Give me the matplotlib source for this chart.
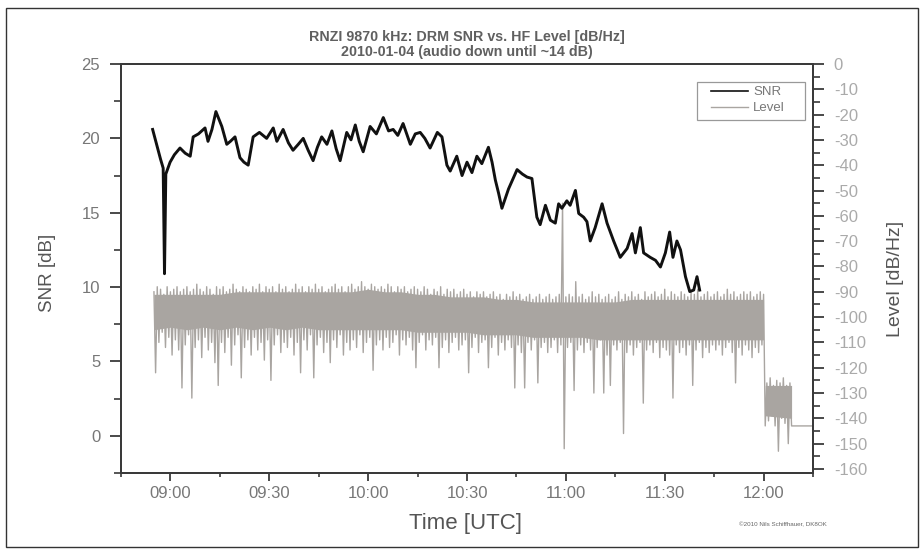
import matplotlib
matplotlib.use("Agg")
import matplotlib.pyplot as plt
import matplotlib.dates as mdates
from matplotlib.lines import Line2D
from matplotlib.patches import Rectangle
import pandas as pd

plt.rcParams['font.family'] = ['Liberation Sans', 'DejaVu Sans']
plt.rcParams['axes.unicode_minus'] = False

DAY = pd.Timestamp('2010-01-04')

# ---------------- data ----------------
# SNR: minutes after 08:00 and value [dB]
snr_min = [54.6, 55.8, 57.0, 57.8, 58.2, 58.6, 59.9, 61.2, 62.9, 64.5, 66.0, 66.9,
           68.5, 70.5, 71.4, 72.6, 73.8, 75.6, 77.1, 78.2, 79.6, 81.1, 82.3, 83.6,
           85.1, 87.0, 89.2, 91.2, 92.3, 94.2, 95.8, 97.2, 98.8, 100.3, 101.8, 103.3,
           104.6, 105.9, 107.5, 109.0, 110.3, 111.5, 113.5, 114.8, 116.1, 117.3, 118.5,
           120.6, 122.5, 124.6, 126.2, 127.6, 129.0, 130.6, 132.8, 134.3, 135.8, 137.2,
           138.8, 141.0, 142.4, 143.9, 144.9, 146.9, 148.5, 150.0, 151.5, 153.0, 154.5,
           156.5, 157.6, 158.6, 159.6, 160.6, 162.6, 164.0, 165.2, 166.8, 168.2, 169.7,
           171.2, 172.2, 173.8, 175.3, 176.8, 177.8, 178.8, 180.3, 181.3, 182.9, 183.9,
           185.4, 186.4, 187.4, 188.9, 191.0, 192.5, 194.5, 196.5, 198.6, 200.1, 201.1,
           202.6, 203.6, 205.6, 207.2, 208.7, 210.2, 211.5, 212.5, 213.7, 214.8, 216.3,
           217.6, 218.8, 219.8, 220.6]
snr_val = [20.6, 19.6, 18.6, 18.0, 10.9, 17.6, 18.4, 18.9, 19.35, 19.0, 18.8, 20.1,
           20.3, 20.7, 19.8, 20.6, 21.8, 20.8, 19.6, 19.8, 20.1, 18.7, 18.4, 18.2,
           20.1, 20.4, 20.0, 20.7, 19.8, 20.6, 19.7, 19.2, 19.6, 20.0, 19.2, 18.5,
           19.4, 20.1, 19.6, 20.5, 19.3, 18.5, 20.4, 19.9, 20.9, 19.8, 19.1,
           20.8, 20.3, 21.4, 20.5, 20.6, 20.2, 21.0, 19.6, 20.3, 20.4, 20.0,
           19.35, 20.4, 20.1, 18.2, 17.8, 18.8, 17.5, 18.4, 17.7, 18.8, 18.3,
           19.4, 18.4, 17.2, 16.3, 15.3, 16.6, 17.3, 17.9, 17.6, 17.4, 17.3,
           14.7, 14.2, 15.5, 14.5, 14.3, 15.6, 15.3, 15.8, 15.5, 16.5, 14.95,
           14.7, 14.4, 13.1, 14.0, 15.6, 14.3, 13.1, 12.0, 12.6, 13.6, 12.3,
           14.0, 12.3, 12.0, 11.8, 11.35, 12.3, 13.7, 12.0, 13.1, 12.5, 10.7,
           9.7, 9.8, 10.7, 9.8]

# Level: one maximum and one minimum per minute, starting at 08:55 [dB/Hz]
level_start = '08:55'
level_hi = [
    -90, -88, -89, -91, -88, -90, -89, -88, -90, -89,   # 08:55
    -88, -90, -89, -87, -89, -90, -88, -89, -91, -88,   # 09:05
    -89, -88, -90, -89, -87, -89, -90, -88, -89, -90,   # 09:15
    -88, -89, -87, -90, -88, -89, -88, -90, -87, -89,   # 09:25
    -88, -90, -89, -87, -89, -88, -90, -88, -89, -87,   # 09:35
    -89, -88, -90, -89, -88, -87, -89, -88, -90, -88,   # 09:45
    -87, -89, -88, -86, -88, -89, -87, -88, -89, -88,   # 09:55
    -89, -87, -88, -90, -88, -89, -88, -90, -89, -88,   # 10:05
    -89, -90, -88, -89, -91, -89, -90, -88, -91, -89,   # 10:15
    -90, -89, -91, -90, -89, -91, -90, -92, -90, -91,   # 10:25
    -90, -92, -91, -90, -92, -91, -93, -91, -92, -90,   # 10:35
    -92, -91, -93, -92, -91, -93, -92, -91, -93, -92,   # 10:45
    -91, -93, -92, -91, -55, -92, -91, -92, -86, -92,   # 10:55
    -91, -93, -92, -90, -92, -91, -93, -92, -91, -93,   # 11:05
    -92, -90, -93, -91, -92, -90, -92, -91, -93, -90,   # 11:15
    -92, -91, -90, -92, -91, -89, -92, -90, -91, -92,   # 11:25
    -90, -91, -92, -90, -91, -89, -92, -91, -90, -92,   # 11:35
    -91, -90, -92, -91, -89, -91, -90, -92, -91, -90,   # 11:45
    -91, -90, -92, -91, -90, -91,                       # 11:55
    -126, -124, -127, -125, -126, -124, -127, -126]     # 12:01
level_lo = [
    -122, -110, -106, -112, -108, -115, -109, -113, -128, -111,
    -107, -132, -112, -109, -116, -108, -113, -110, -118, -127,
    -110, -114, -108, -119, -111, -107, -124, -112, -109, -115,
    -108, -113, -110, -117, -109, -125, -111, -107, -114, -110,
    -112, -108, -115, -110, -122, -109, -113, -107, -124, -111,
    -108, -114, -110, -118, -109, -112, -107, -115, -110, -113,
    -109, -112, -107, -114, -110, -108, -121, -111, -109, -113,
    -108, -112, -110, -107, -115, -109, -111, -108, -113, -120,
    -110, -107, -113, -109, -111, -108, -120, -112, -109, -114,
    -110, -108, -113, -111, -109, -122, -112, -108, -114, -110,
    -109, -120, -112, -108, -115, -110, -113, -109, -112, -128,
    -111, -114, -128, -110, -113, -109, -126, -112, -110, -114,
    -112, -109, -114, -111, -152, -112, -110, -129, -113, -111,
    -114, -110, -113, -130, -112, -109, -130, -115, -127, -111,
    -113, -110, -146, -114, -111, -115, -112, -110, -134, -113,
    -111, -114, -110, -116, -112, -113, -115, -132, -111, -114,
    -112, -115, -111, -127, -113, -110, -116, -112, -114, -111,
    -113, -111, -115, -112, -110, -114, -126, -112, -115, -111,
    -113, -116, -112, -114, -111, -143,
    -141, -139, -143, -153, -140, -142, -150, -143]
level_tail_time = ['12:16:00']
level_tail_val = [-143]

# dense core of the Level band, every 5 minutes from 08:55 to 12:00
core_start, core_end = '08:55', '12:00'
core_top = [-91, -91, -91, -91, -91, -90, -90, -90, -90, -90, -90, -90, -90,
            -89, -90, -90, -91, -91, -92, -92, -92, -93, -93, -94, -94, -94,
            -94, -94, -94, -93, -93, -93, -93, -93, -93, -93, -93, -93]
core_bot = [-105, -104, -105, -104, -105, -104, -105, -104, -105, -104, -105,
            -105, -105, -105, -105, -105, -106, -106, -106, -106, -107, -107,
            -107, -108, -108, -108, -108, -109, -109, -109, -109, -109, -109,
            -109, -109, -109, -109, -109]
# dense core after the carrier drop
low_core_time = ['12:00:30', '12:08:30']
low_core_top = [-127, -127]
low_core_bot = [-139, -140]

title_lines = ['RNZI 9870 kHz: DRM SNR vs. HF Level [dB/Hz]',
               '2010-01-04 (audio down until ~14 dB)']
x_label = 'Time [UTC]'
y_label = 'SNR [dB]'
y2_label = 'Level [dB/Hz]'
credit = '\u00a92010 Nils Schiffhauer, DK8OK'

# ---------------- build series ----------------
def hm(s):
    return pd.Timestamp('2010-01-04 ' + s)

snr_t = [DAY + pd.Timedelta(hours=8) + pd.Timedelta(minutes=m) for m in snr_min]

t0 = hm(level_start)
lev_t, lev_v = [], []
for i, (h, l) in enumerate(zip(level_hi, level_lo)):
    lev_t += [t0 + pd.Timedelta(minutes=i), t0 + pd.Timedelta(minutes=i + 0.5)]
    lev_v += [h, l]
lev_t += [hm(s) for s in level_tail_time]
lev_v += level_tail_val

core_t = pd.date_range(hm(core_start), hm(core_end), freq='5min')
low_t = [hm(s) for s in low_core_time]

# ---------------- figure ----------------
fig = plt.figure(figsize=(9.24, 5.53), dpi=100)
ax = fig.add_axes([121 / 924, 1 - 473 / 553, (813 - 121) / 924, (473 - 64) / 553])
ax2 = ax.twinx()

GRAY = '#a9a5a1'
ax2.fill_between(core_t, core_top, core_bot, color=GRAY, lw=0)
ax2.fill_between(low_t, low_core_top, low_core_bot, color=GRAY, lw=0)
ax2.plot(lev_t, lev_v, color=GRAY, lw=1.0)
ax.plot(snr_t, snr_val, color='#111111', lw=2.1)

ax.set_zorder(ax2.get_zorder() + 1)
ax.patch.set_visible(False)

ax.set_xlim(hm('08:45'), hm('12:15'))
ax.set_ylim(-2.5, 25)
ax2.set_ylim(-161.6, 0)

ax.xaxis.set_major_locator(mdates.MinuteLocator(byminute=[0, 30]))
ax.xaxis.set_minor_locator(mdates.MinuteLocator(byminute=[15, 45]))
ax.xaxis.set_major_formatter(mdates.DateFormatter('%H:%M'))
ax.yaxis.set_major_locator(plt.MultipleLocator(5))
ax.yaxis.set_minor_locator(plt.MultipleLocator(2.5))
ax2.yaxis.set_major_locator(plt.MultipleLocator(10))
ax2.yaxis.set_minor_locator(plt.MultipleLocator(5))

SP = '#3a3a3a'
for a in (ax, ax2):
    for s in a.spines.values():
        s.set_color(SP)
        s.set_linewidth(1.4)

ax.tick_params(axis='x', which='major', direction='out', length=6, width=1.3,
               color=SP, labelsize=12, labelcolor='#777777', pad=3)
ax.tick_params(axis='x', which='minor', direction='out', length=3, width=1.2, color=SP)
ax.tick_params(axis='y', which='major', direction='out', length=8, width=1.3,
               color=SP, labelsize=12, labelcolor='#777777', pad=7)
ax.tick_params(axis='y', which='minor', direction='out', length=5, width=1.2, color=SP)
ax2.tick_params(axis='y', which='major', direction='out', length=8, width=1.3,
                color=SP, labelsize=12, labelcolor='#aaaaaa', pad=7)
ax2.tick_params(axis='y', which='minor', direction='out', length=5, width=1.2, color=SP)

# labels
fig.text(467 / 924, 1 - 36.5 / 553, title_lines[0], ha='center', va='center',
         fontsize=10.3, fontweight='bold', color='#606060')
fig.text(467 / 924, 1 - 52 / 553, title_lines[1], ha='center', va='center',
         fontsize=10.3, fontweight='bold', color='#606060')
fig.text(466 / 924, 1 - 523 / 553, x_label, ha='center', va='center',
         fontsize=16, color='#555555')
fig.text(47 / 924, 1 - 273 / 553, y_label, ha='center', va='center', rotation=90,
         fontsize=13.5, color='#555555')
fig.text(895 / 924, 1 - 279 / 553, y2_label, ha='center', va='center', rotation=90,
         fontsize=14, color='#555555')
fig.text(783 / 924, 1 - 525 / 553, credit, ha='center', va='center',
         fontsize=4.5, color='#666666')

# legend: box drawn separately so its padding can match the original
box = Rectangle(((697 - 121) / 692, 1 - (120 - 64) / 409), 108 / 692, 38 / 409,
                transform=ax.transAxes, facecolor='white', edgecolor='#999999',
                lw=0.9, zorder=5)
ax.add_patch(box)
handles = [Line2D([], [], color='#111111', lw=1.2),
           Line2D([], [], color=GRAY, lw=1.0)]
leg = ax.legend(handles, ['SNR', 'Level'], loc='upper left',
                bbox_to_anchor=((711 - 121) / 692, 1 - (86 - 64) / 409),
                borderaxespad=0, borderpad=0, fontsize=9.5, labelcolor='#777777',
                frameon=False, handlelength=2.8, labelspacing=0.3, handletextpad=0.4)
leg.set_zorder(6)

# outer frame
fig.patches.append(Rectangle((6 / 924, 1 - 547 / 553), 912 / 924, 539 / 553,
                             transform=fig.transFigure, fill=False,
                             edgecolor='#333333', lw=1.0))

fig.savefig('out.png', dpi=100)
